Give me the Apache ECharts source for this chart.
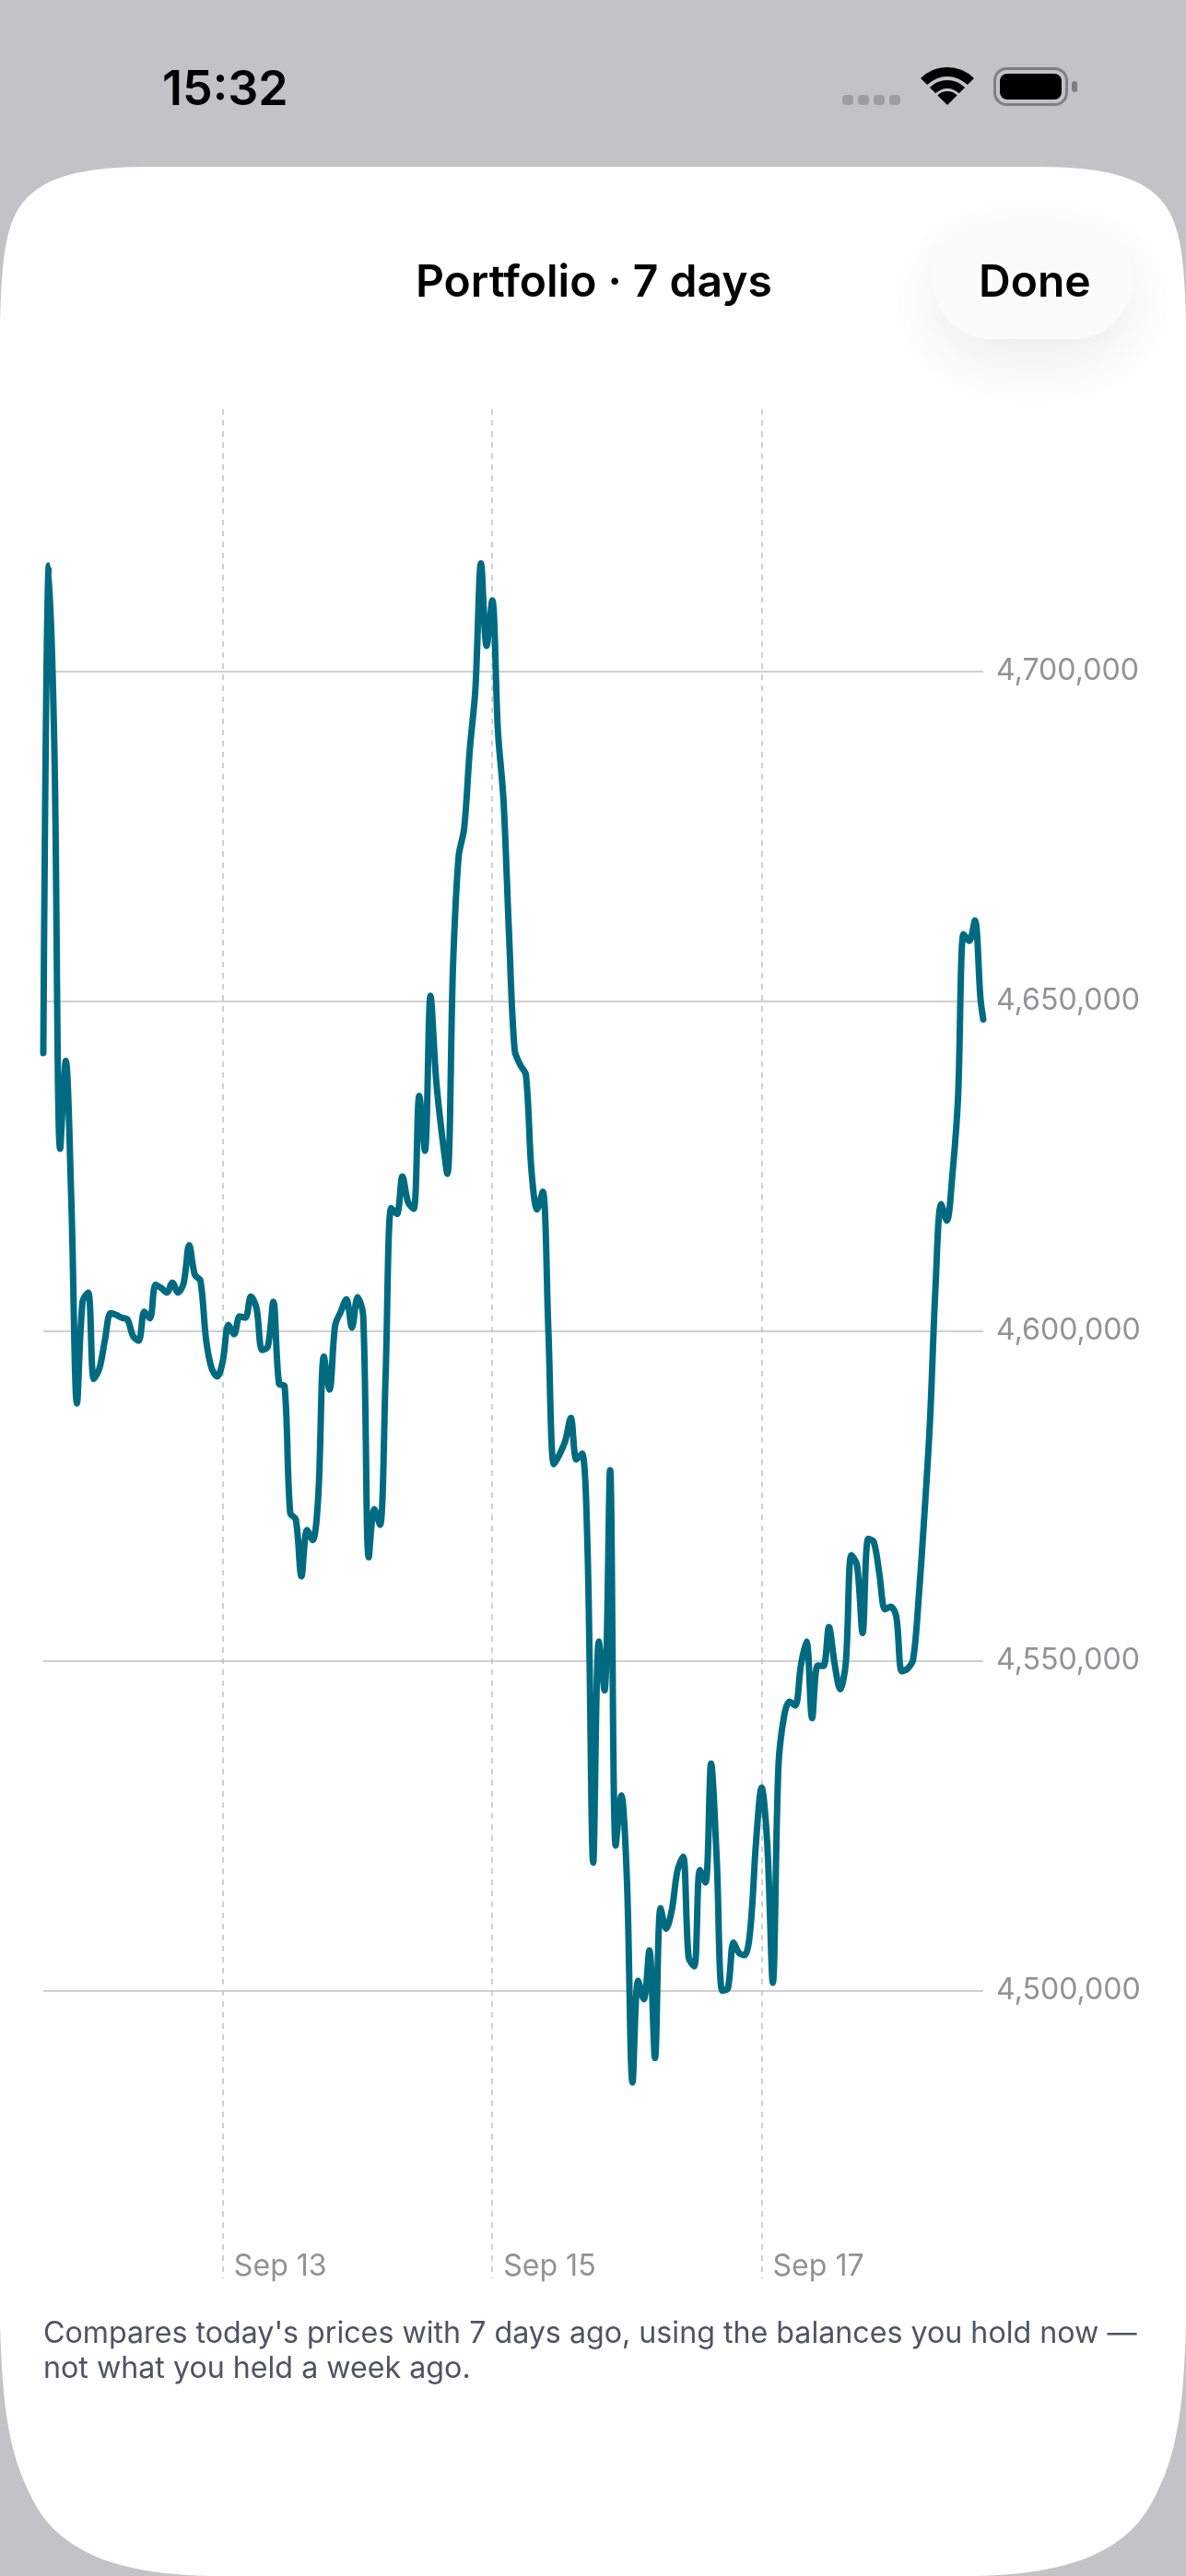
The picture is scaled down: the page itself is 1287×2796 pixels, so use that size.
<!DOCTYPE html>
<html>
<head>
<meta charset="utf-8">
<title>Portfolio</title>
<script src="https://cdn.jsdelivr.net/npm/echarts@6/dist/echarts.min.js"></script>
<style>
  html, body { margin: 0; padding: 0; background: #c3c2c7; }
  #frame { position: absolute; left: 0; top: 0; }
  #chart { position: absolute; left: 0; top: 0; width: 1287px; height: 2796px; }
</style>
</head>
<body>
<!-- phone sheet outline and wifi glyph sit behind the chart -->
<svg id="frame" width="1287" height="2796" viewBox="0 0 1287 2796">
  <path fill="#ffffff" d="M0,350 C2,270 8,236 30,214 C52,192 90,181 160,181 L1127,181 C1197,181 1235,192 1257,214 C1279,236 1285,270 1287,350 L1287,2523 C1284,2620 1277,2670 1246,2723 C1217,2770 1157,2796 1049,2796 L238,2796 C130,2796 70,2770 41,2723 C10,2670 3,2620 0,2523 Z"/>
  <path fill="#000000" d="M999,85 A41,41 0 0 1 1057,85 L1049.9,92.1 A31,31 0 0 0 1006.1,92.1 Z M1008.9,94.9 A27,27 0 0 1 1047.1,94.9 L1040.7,101.3 A18,18 0 0 0 1015.3,101.3 Z M1017.4,103.4 A15,15 0 0 1 1038.6,103.4 L1028,114 Z"/>
</svg>
<div id="chart"></div>
<script>
// hourly portfolio value
const portfolioValues = [
  4642100, 4716000, 4687000, 4627600, 4640900, 4619500, 4589000, 4604500,
  4605800, 4592700, 4594300, 4598700, 4602700, 4602400, 4602000, 4601700,
  4599200, 4598500, 4602900, 4601900, 4607000, 4606500, 4605800, 4607300,
  4605800, 4607200, 4613000, 4608500, 4607600, 4598700, 4594300, 4593100,
  4595500, 4600900, 4599500, 4602200, 4602000, 4605200, 4603400, 4597100,
  4597600, 4604400, 4592000, 4591600, 4572400, 4571400, 4562800, 4569800,
  4568300, 4575000, 4596100, 4591100, 4600800, 4602900, 4604800, 4600500,
  4605100, 4602400, 4565700, 4573000, 4570600, 4593300, 4618600, 4617700,
  4623400, 4619500, 4618500, 4635600, 4627300, 4650800, 4638100, 4630000,
  4623800, 4655000, 4671800, 4676200, 4688100, 4697300, 4716300, 4703800,
  4710700, 4691100, 4680500, 4660000, 4642500, 4640300, 4638800, 4624200,
  4618400, 4621100, 4600200, 4579800, 4581300, 4583300, 4586800, 4580500,
  4581400, 4566300, 4519400, 4552900, 4545500, 4578900, 4522000, 4529600,
  4516800, 4486100, 4501500, 4498700, 4506100, 4489800, 4512500, 4509400,
  4512200, 4518200, 4520300, 4505000, 4503700, 4518300, 4516400, 4534400,
  4520000, 4500000, 4500400, 4507300, 4505700, 4505400, 4509400, 4522400,
  4530800, 4522400, 4501200, 4534000, 4541600, 4543800, 4543200, 4549300,
  4552900, 4541300, 4549300, 4549200, 4555100, 4549600, 4545700, 4549600,
  4566000, 4564500, 4554200, 4568500, 4568000, 4563100, 4557800, 4558200,
  4556700, 4548400, 4548800, 4550200, 4559600, 4572000, 4586200, 4606800,
  4619200, 4616700, 4623700, 4635300, 4660100, 4659100, 4662200, 4650400,
  4647200
];
const lastHour = 167.5;

const yTicks = [4500000, 4550000, 4600000, 4650000, 4700000];
const xTickHours = [32, 80, 128];
const xTickLabels = ['Sep 13', 'Sep 15', 'Sep 17'];

const titleText = 'Portfolio · 7 days';
const doneText = 'Done';
const clockText = '15:32';
const noteLines = [
  "Compares today's prices with 7 days ago, using the balances you hold now —",
  'not what you held a week ago.'
];

const FONT = 'Inter';

const seriesData = portfolioValues.map(function (v, i) {
  return [i === portfolioValues.length - 1 ? lastHour : i, v];
});

const chrome = [
  { type: 'rect', z: -9, shape: { x: 1012, y: 240, width: 217, height: 128, r: 64 },
    style: { fill: '#fbfbfb', shadowBlur: 70, shadowOffsetY: 24, shadowColor: 'rgba(0,0,0,0.08)' } },
  { type: 'text', style: { x: 176, y: 72, text: clockText, fill: '#000', font: '600 52px ' + FONT } },
  { type: 'text', style: { x: 451, y: 284, text: titleText, fill: '#000', font: '600 48px ' + FONT } },
  { type: 'text', style: { x: 1062, y: 284, text: doneText, fill: '#000', font: '600 48px ' + FONT } },
  { type: 'text', style: { x: 47, y: 2517, text: noteLines[0], fill: '#4b5563', font: '400 32.2px ' + FONT } },
  { type: 'text', style: { x: 47, y: 2555.7, text: noteLines[1], fill: '#4b5563', font: '400 32.2px ' + FONT } },
  // status bar icons
  { type: 'rect', shape: { x: 914, y: 103, width: 12, height: 11, r: 4 }, style: { fill: '#9d9da1' } },
  { type: 'rect', shape: { x: 931, y: 103, width: 12, height: 11, r: 4 }, style: { fill: '#9d9da1' } },
  { type: 'rect', shape: { x: 948, y: 103, width: 12, height: 11, r: 4 }, style: { fill: '#9d9da1' } },
  { type: 'rect', shape: { x: 965, y: 103, width: 12, height: 11, r: 4 }, style: { fill: '#9d9da1' } },
  { type: 'rect', shape: { x: 1079.5, y: 74.5, width: 78, height: 39, r: 13 }, style: { fill: 'none', stroke: '#7f7f83', lineWidth: 3 } },
  { type: 'rect', shape: { x: 1085, y: 80, width: 67, height: 28, r: 8 }, style: { fill: '#000' } },
  { type: 'rect', shape: { x: 1163, y: 88, width: 6, height: 12, r: 3 }, style: { fill: '#7f7f83' } }
];

const myChart = echarts.init(document.getElementById('chart'));
myChart.setOption({
  backgroundColor: 'transparent',
  animation: false,
  graphic: { elements: chrome },
  grid: { left: 47, right: 220, top: 444, bottom: 323 },
  xAxis: {
    type: 'value',
    min: 0,
    max: lastHour,
    axisLine: { show: false },
    axisTick: { show: false, customValues: xTickHours },
    axisLabel: {
      customValues: xTickHours,
      inside: true,
      margin: -3,
      align: 'left',
      verticalAlign: 'bottom',
      padding: [0, 0, 0, 12],
      color: '#929296',
      fontFamily: FONT,
      fontSize: 32.1,
      formatter: function (value) {
        return xTickLabels[xTickHours.indexOf(value)];
      }
    },
    splitLine: { show: true, lineStyle: { color: '#c0c0c3', width: 1.5, type: [6, 6] } }
  },
  yAxis: {
    type: 'value',
    position: 'right',
    min: 4456400,
    max: 4739700,
    axisLine: { show: false },
    axisTick: { show: false, customValues: yTicks },
    axisLabel: {
      customValues: yTicks,
      margin: 14,
      padding: [6, 0, 0, 0],
      color: '#929296',
      fontFamily: FONT,
      fontSize: 32.1,
      formatter: function (value) {
        return value.toLocaleString('en-US');
      }
    },
    splitLine: { show: true, lineStyle: { color: '#c0c0c3', width: 1.5 } }
  },
  series: [{
    type: 'line',
    data: seriesData,
    showSymbol: false,
    smooth: 0.33,
    lineStyle: { color: '#006b80', width: 7, cap: 'round', join: 'round' }
  }]
});
</script>
</body>
</html>
